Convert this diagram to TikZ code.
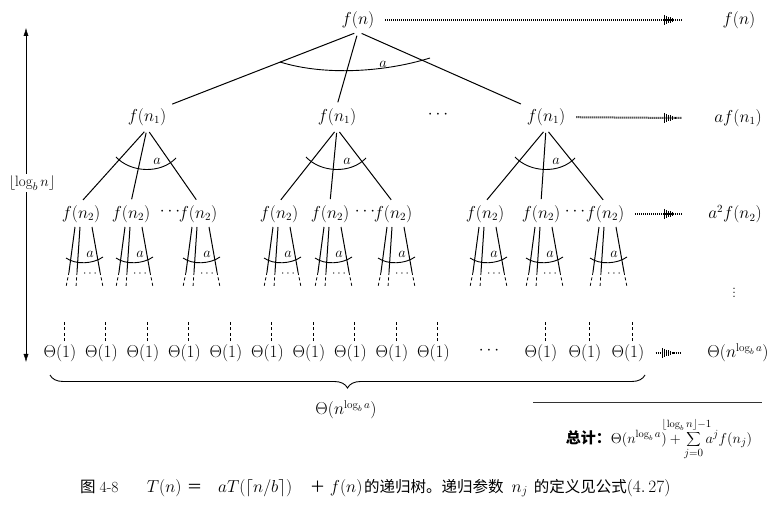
\documentclass[tikz,border=0pt]{standalone}
\usepackage{fontspec}
\newfontfamily\cjk{Noto Sans CJK SC}
\usetikzlibrary{arrows.meta,decorations.pathreplacing}

\newcommand{\fanarc}[1]{% arc over the three edges below an f(n_1)
\draw[arcline] ([shift={(-31,40)}]#1.center) .. controls +(15,16) and +(-15,16) .. ([shift={(29,41)}]#1.center);
\node[albl] (#1-a) at ([shift={(10,44)}]#1.center) {$a$};
}
\newcommand{\subfan}[1]{% the stubs below an f(n_2)
\draw[stem] ([shift={(-6,13)}]#1.center) -- ([shift={(-12,58)}]#1.center) coordinate (#1-l);
\draw[stem] ([shift={(-1,13)}]#1.center) -- ([shift={(-4,58)}]#1.center) coordinate (#1-m);
\draw[stem] ([shift={(11,13)}]#1.center) -- ([shift={(19,58)}]#1.center) coordinate (#1-r);
\draw[stub] (#1-l) -- +(-3,15);
\draw[stub] (#1-m) -- +(-1,15);
\draw[stub] (#1-r) -- +(3,15);
\draw[arcline] ([shift={(-15,44)}]#1.center) .. controls +(10,7) and +(-10,7) .. ([shift={(22,43)}]#1.center);
\node[albl] (#1-a) at ([shift={(9,40)}]#1.center) {$a$};
\node[dlbl] (#1-d) at ([shift={(9,60)}]#1.center) {$\cdots$};
}
\newcommand{\dotarrow}[2]{% dotted arrow to the sum column
\draw[dotline] (#1) -- (#2);
\foreach \k in {0,...,5}{%
\draw[tipbar] ([xshift={-18+2.2*\k}]#2) ++(0,{-5+0.8*\k}) -- ++(0,{10-1.6*\k});
}
}
\newcommand{\capm}[1]{{\fontsize{17.5}{20}\selectfont$#1$}}

\begin{document}
\begin{tikzpicture}[x=1pt,y=-1pt,
every node/.style={font=\fontsize{16}{18}\selectfont},
tree/.style={inner sep=3pt},
leafnode/.style={inner sep=3pt},
albl/.style={inner sep=0pt,font=\fontsize{15}{17}\selectfont},
dlbl/.style={inner sep=0pt,font=\fontsize{12}{14}\selectfont},
edge/.style={line width=1pt,shorten <=4pt,shorten >=3pt},
stem/.style={line width=1pt},
stub/.style={line width=0.8pt,dash pattern=on 3pt off 2.5pt},
arcline/.style={line width=0.9pt},
dotline/.style={line width=2pt,dash pattern=on 0.9pt off 1.1pt,shorten <=8pt},
tipbar/.style={line width=1pt},
]
\useasboundingbox (0,0) rectangle (784,510);

%% tree
\node[tree] (r) at (358,20) {$f(n)$};
\node[tree] (n1a) at (147,117) {$f(n_1)$};
\node[tree] (n1b) at (337,117) {$f(n_1)$};
\node[tree] (n1dots) at (438,115) {$\cdots$};
\node[tree] (n1c) at (546,117) {$f(n_1)$};

\node[tree] (n2aa) at (81,214) {$f(n_2)$};
\node[tree] (n2ab) at (131,214) {$f(n_2)$};
\node[tree] (n2adots) at (170,212) {$\cdots$};
\node[tree] (n2ac) at (198,214) {$f(n_2)$};
\node[tree] (n2ba) at (279,214) {$f(n_2)$};
\node[tree] (n2bb) at (330,214) {$f(n_2)$};
\node[tree] (n2bdots) at (365,212) {$\cdots$};
\node[tree] (n2bc) at (393,214) {$f(n_2)$};
\node[tree] (n2ca) at (485,214) {$f(n_2)$};
\node[tree] (n2cb) at (541,214) {$f(n_2)$};
\node[tree] (n2cdots) at (575,212) {$\cdots$};
\node[tree] (n2cc) at (605,214) {$f(n_2)$};

\draw[edge] (r.south) -- (n1a.north east);
\draw[edge] (r.south) -- (n1b.north);
\draw[edge] (r.south) -- (n1c.north west);
\draw[arcline] ([shift={(-78,42)}]r.center) .. controls +(45,14) and +(-45,14) .. ([shift={(72,38)}]r.center);
\node[albl] (r-a) at ([shift={(25,44)}]r.center) {$a$};

\foreach \p in {a,b,c}{%
\foreach \c in {a,b,c}{%
\draw[edge] (n1\p.south) -- (n2\p\c.north);
\subfan{n2\p\c}
}
\fanarc{n1\p}
}

%% leaves
\foreach \i in {0,...,9}{%
\node[leafnode] (t\i) at ({60+41.5*\i},353) {$\Theta(1)$};
}
\node[leafnode] (tdots) at (489,351) {$\cdots$};
\node[leafnode] (t10) at (541,353) {$\Theta(1)$};
\node[leafnode] (t11) at (585,353) {$\Theta(1)$};
\node[leafnode] (t12) at (628,353) {$\Theta(1)$};
\foreach \i in {0,...,12}{%
\draw[stub] ([xshift=4pt]t\i.north) -- +(0,-20);
}
\coordinate (b1) at (50,375);
\coordinate (b2) at (645,375);
\draw[decorate,decoration={brace,mirror,amplitude=13pt},line width=0.9pt] (b1) -- (b2);
\node (leafsum) at (346,410) {$\Theta(n^{\log_b a})$};

%% height
\coordinate (up) at (26,28);
\coordinate (dn) at (26,362);
\node[inner sep=2pt,font=\fontsize{15}{17}\selectfont] (lg) at (32,183) {$\lfloor\log_b n\rfloor$};
\draw[-{Latex[length=8pt,width=5pt]}] (lg.north -| up) -- (up);
\draw[-{Latex[length=8pt,width=5pt]}] (lg.south -| dn) -- (dn);

%% sums per level
\node (s0) at (739,20) {$f(n)$};
\node (s1) at (738,118) {$af(n_1)$};
\node (s2) at (735,214) {$a^2f(n_2)$};
\node (s2dots) at (734,290) {$\vdots$};
\node (s3) at (738,353) {$\Theta(n^{\log_b a})$};
\coordinate (e0) at (682,20);
\coordinate (e1) at (682,118);
\coordinate (e2) at (682,214);
\coordinate (e3) at (680,353);
\dotarrow{r}{e0}
\dotarrow{n1c}{e1}
\dotarrow{n2cc}{e2}
\dotarrow{t12}{e3}

%% total
\draw[line width=1pt,black!80] (533,402) -- (762,402);
\node[anchor=base,font=\fontsize{15}{17}\selectfont] (total) at (659,443)
{{\cjk\bfseries 总计：}$\Theta(n^{\log_b a})+\displaystyle\sum_{j=0}^{\makebox[0pt]{$\scriptstyle\lfloor\log_b n\rfloor-1$\hspace{14pt}}}a^jf(n_j)$};

%% caption
\node[anchor=base west,inner sep=0pt,font=\fontsize{15.5}{18}\selectfont] (cap) at (80,492)
{\makebox[62pt][l]{{\cjk 图}\hspace{4pt}4-8}\makebox[44pt][c]{\capm{T(n)}}\makebox[17pt][c]{\cjk ＝}%
\makebox[104pt][c]{\capm{aT(\lceil n/b\rceil)}}\makebox[21pt][c]{\cjk ＋}\makebox[36pt][c]{\capm{f(n)}}%
{\cjk 的递归树。递归参数}\hspace{8pt}\capm{n_j}\hspace{6pt}{\cjk 的定义见公式}\capm{(4.\,27)}};
\end{tikzpicture}
\end{document}
